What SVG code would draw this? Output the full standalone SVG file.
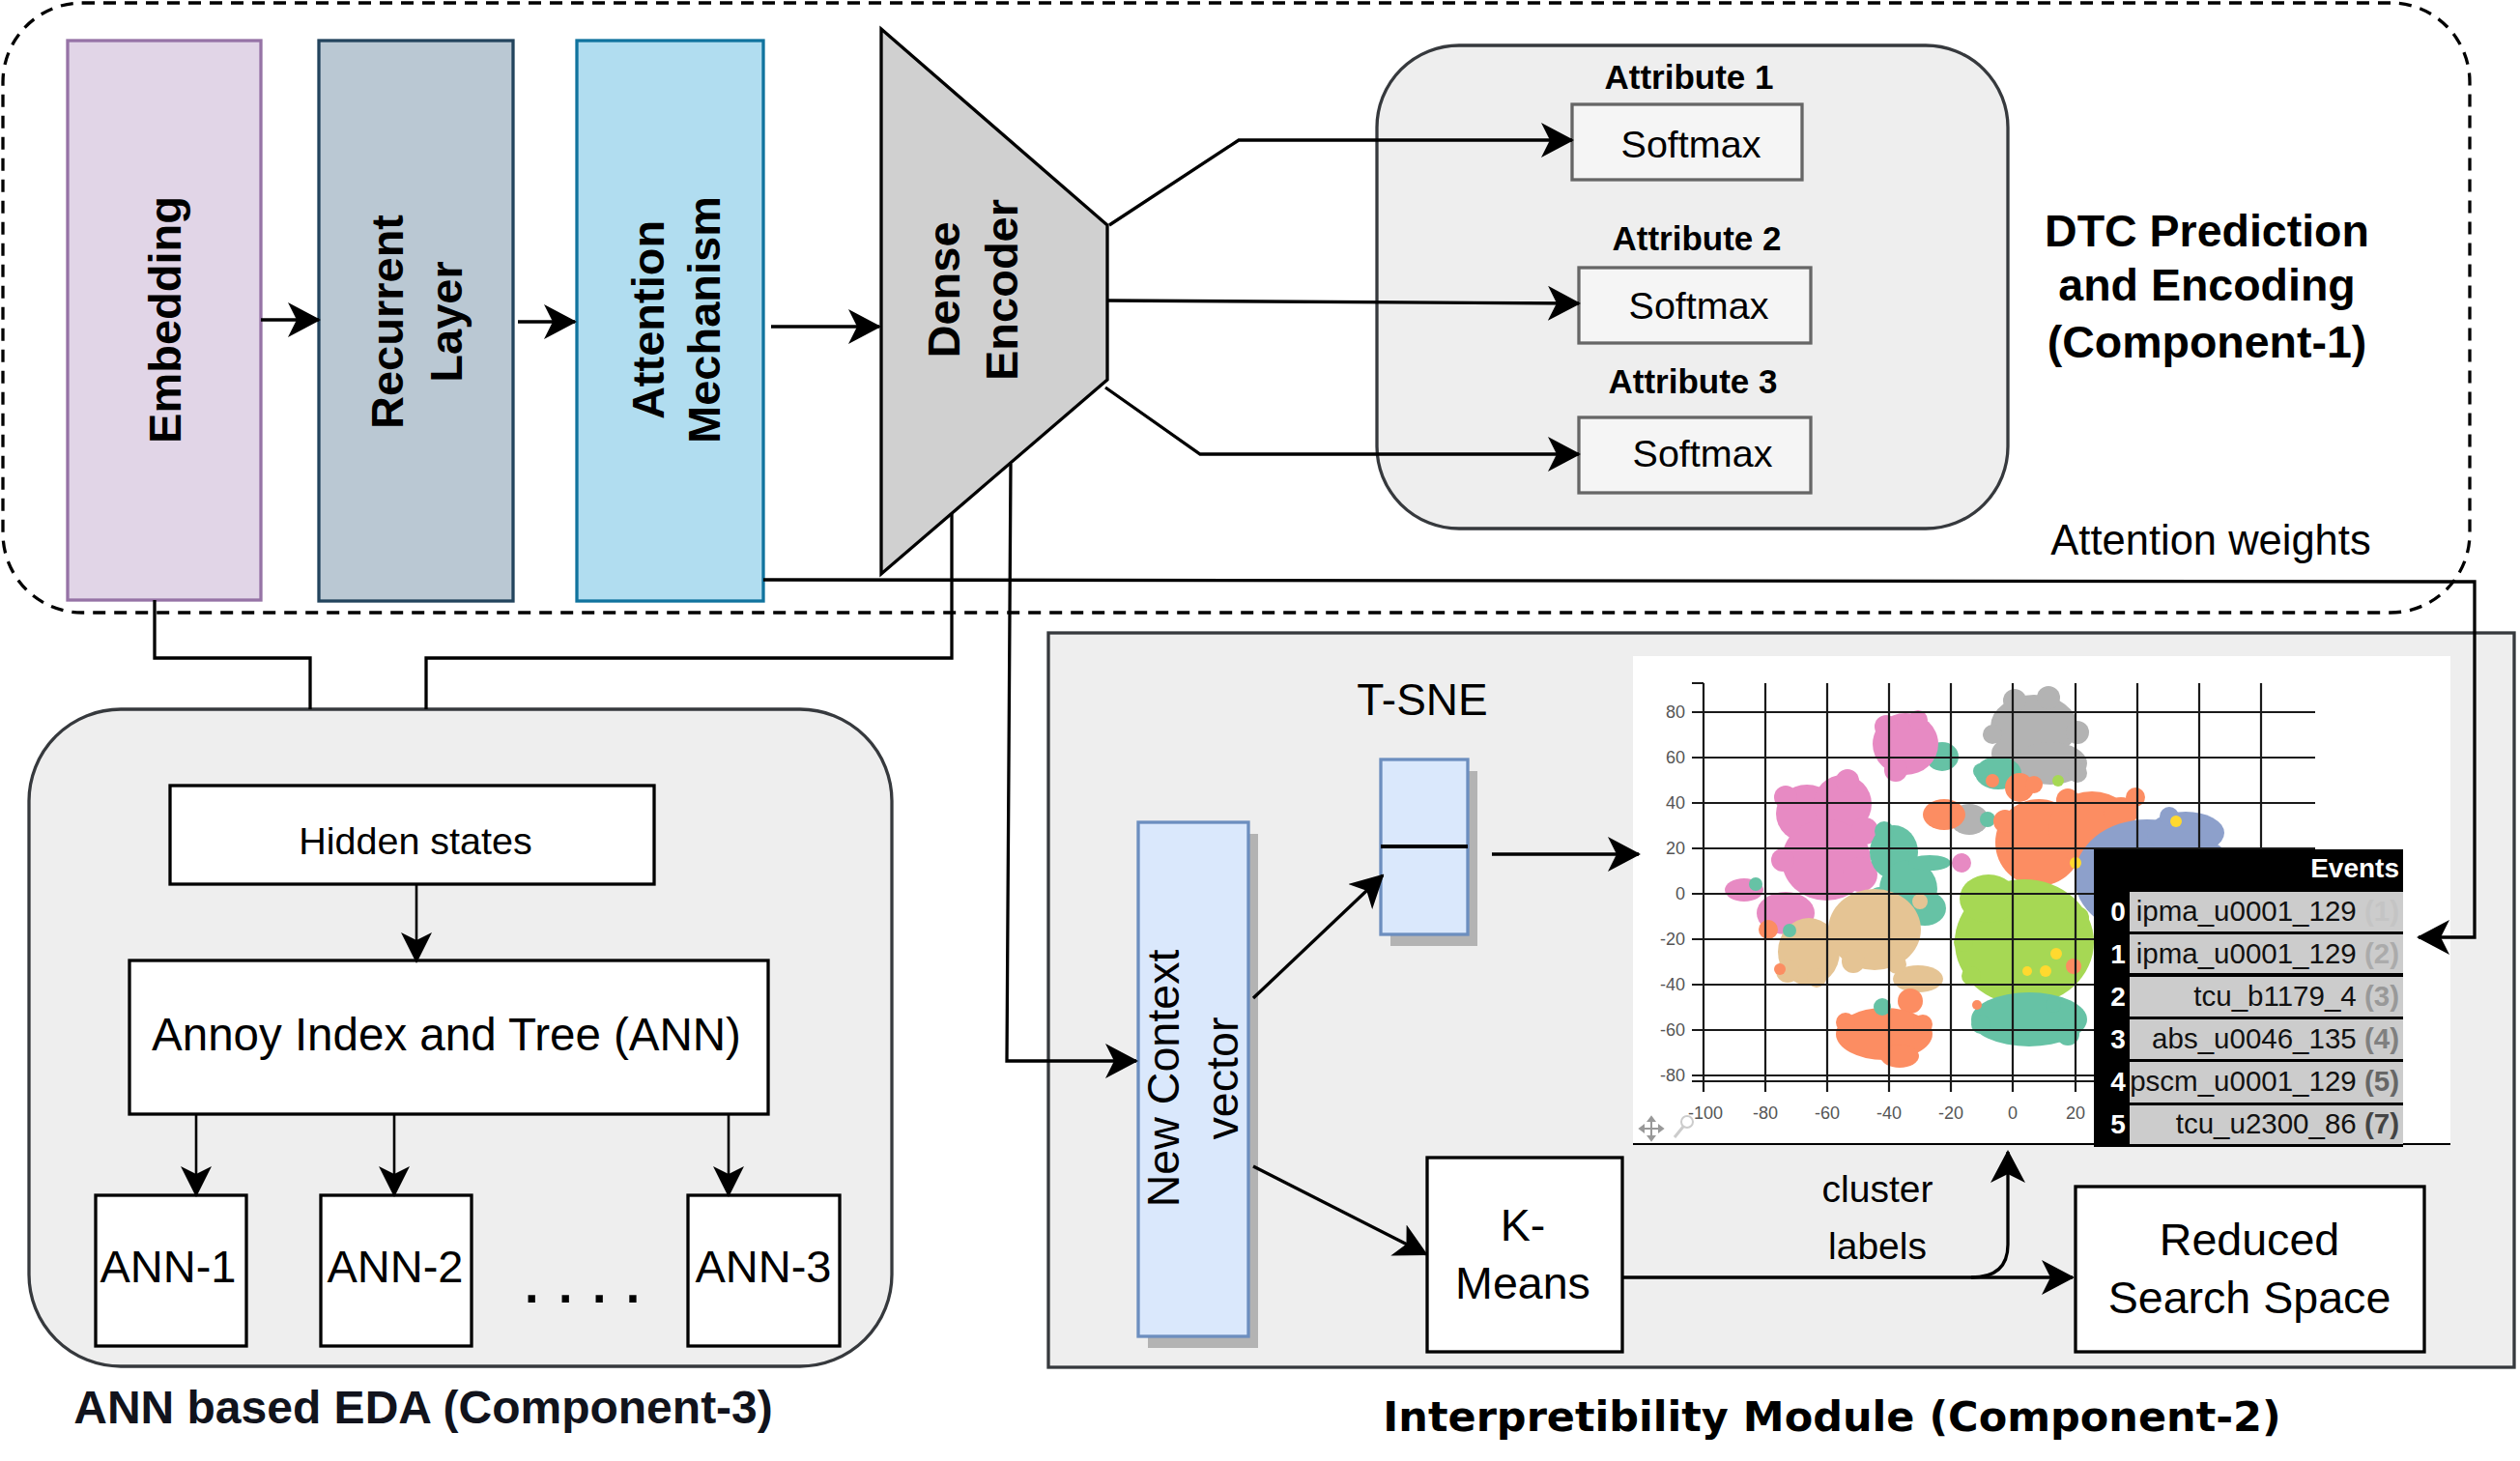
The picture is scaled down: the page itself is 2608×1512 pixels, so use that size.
<svg xmlns="http://www.w3.org/2000/svg" width="2608" height="1512" viewBox="0 0 2608 1512">
<defs>
<style>
text{font-family:"Liberation Sans",Arial,sans-serif;fill:#000}
.b{font-weight:bold}
.ln{fill:none;stroke:#000;stroke-width:3.3}
.thin{fill:none;stroke:#000;stroke-width:2.6}
.box{fill:#fff;stroke:#000;stroke-width:3.3}
.cont{fill:#eeeeee;stroke:#36393d;stroke-width:3.3}
.soft{fill:#f5f5f5;stroke:#666;stroke-width:3.3}
.blue{fill:#dae8fc;stroke:#6c8ebf;stroke-width:3.3}
.shadow{fill:#b3b3b3}
.grid{stroke:#1a1a1a;stroke-width:2.2;fill:none}
.tick{font-size:18px;fill:#555}
.cell{fill:#cccccc}
.tt{font-size:29.5px}
.idx{font-size:28px;font-weight:bold;fill:#fff}
</style>
<marker id="ah" viewBox="0 0 34 36" refX="32" refY="18" markerWidth="34" markerHeight="36" orient="auto" markerUnits="userSpaceOnUse"><path d="M0,0 L34,18 L0,36 L9,18 Z" fill="#000"/></marker>
<marker id="ah2" viewBox="0 0 32 32" refX="30" refY="16" markerWidth="32" markerHeight="32" orient="auto" markerUnits="userSpaceOnUse"><path d="M0,0 L32,16 L0,32 L8,16 Z" fill="#000"/></marker>
</defs>
<rect width="2608" height="1512" fill="#fff"/>

<!-- Component 1 dashed boundary -->
<rect id="component1" x="3" y="3" width="2553" height="631" rx="82" ry="82" fill="none" stroke="#000" stroke-width="3.3" stroke-dasharray="13 9"/>

<!-- Component 3 container -->
<g id="component3">
<rect class="cont" x="30" y="734" width="893" height="680" rx="95" ry="95"/>
<text class="b" x="438" y="1473" font-size="48" text-anchor="middle" style="fill:#11131c">ANN based EDA (Component-3)</text>
</g>

<!-- Component 2 container -->
<g id="component2">
<rect class="cont" x="1085" y="655" width="1517" height="760"/>
<text x="1896" y="1481" font-size="43" text-anchor="middle" style="font-family:'DejaVu Sans',sans-serif;font-weight:bold">Interpretibility Module (Component-2)</text>
</g>

<g id="embedding">
<rect x="70" y="42" width="200" height="579" fill="#e1d5e7" stroke="#9673a6" stroke-width="3.3"/>
<text class="b" font-size="47" text-anchor="middle" transform="translate(187,331) rotate(-90)">Embedding</text>
</g>
<g id="recurrent">
<rect x="330" y="42" width="201" height="580" fill="#bac8d3" stroke="#23445d" stroke-width="3.3"/>
<text class="b" font-size="47" text-anchor="middle" transform="translate(417,333) rotate(-90)">Recurrent</text>
<text class="b" font-size="47" text-anchor="middle" transform="translate(478,333) rotate(-90)">Layer</text>
</g>
<g id="attention">
<rect x="597" y="42" width="193" height="580" fill="#b1ddf0" stroke="#10739e" stroke-width="3.3"/>
<text class="b" font-size="47" text-anchor="middle" transform="translate(687,331) rotate(-90)">Attention</text>
<text class="b" font-size="47" text-anchor="middle" transform="translate(745,331) rotate(-90)">Mechanism</text>
</g>
<g id="dense">
<polygon points="912,30 1146,233 1146,393 912,594" fill="#d0d0d0" stroke="#000" stroke-width="3.3"/>
<text class="b" font-size="47" text-anchor="middle" transform="translate(993,300) rotate(-90)">Dense</text>
<text class="b" font-size="47" text-anchor="middle" transform="translate(1053,300) rotate(-90)">Encoder</text>
</g>

<g id="attributes">
<rect class="cont" x="1425" y="47" width="653" height="500" rx="85" ry="85"/>
<text class="b" x="1748" y="92" font-size="35" text-anchor="middle">Attribute 1</text>
<text class="b" x="1756" y="259" font-size="35" text-anchor="middle">Attribute 2</text>
<text class="b" x="1752" y="407" font-size="35" text-anchor="middle">Attribute 3</text>
</g>
<g id="softmax1"><rect class="soft" x="1627" y="108" width="238" height="78"/><text x="1750" y="163" font-size="39.5" text-anchor="middle">Softmax</text></g>
<g id="softmax2"><rect class="soft" x="1634" y="277" width="240" height="78"/><text x="1758" y="330" font-size="39.5" text-anchor="middle">Softmax</text></g>
<g id="softmax3"><rect class="soft" x="1634" y="432" width="240" height="78"/><text x="1762" y="483" font-size="39.5" text-anchor="middle">Softmax</text></g>

<g id="dtc-title">
<text class="b" x="2284" y="255" font-size="46.5" text-anchor="middle">DTC Prediction</text>
<text class="b" x="2284" y="311" font-size="46.5" text-anchor="middle">and Encoding</text>
<text class="b" x="2284" y="370" font-size="46.5" text-anchor="middle">(Component-1)</text>
</g>
<g id="attention-weights-label"><text x="2288" y="574" font-size="43.5" text-anchor="middle">Attention weights</text></g>

<!-- ANN side -->
<g id="hidden"><rect class="box" x="176" y="813" width="501" height="102" stroke-width="3"/><text x="430" y="884" font-size="39.5" text-anchor="middle">Hidden states</text></g>
<g id="annoy"><rect class="box" x="134" y="994" width="661" height="159"/><text x="462" y="1087" font-size="47.5" text-anchor="middle">Annoy Index and Tree (ANN)</text></g>
<g id="ann1"><rect class="box" x="99" y="1237" width="156" height="156"/><text x="174" y="1327" font-size="47" text-anchor="middle">ANN-1</text></g>
<g id="ann2"><rect class="box" x="332" y="1237" width="156" height="156"/><text x="409" y="1327" font-size="47" text-anchor="middle">ANN-2</text></g>
<g id="ann3"><rect class="box" x="712" y="1237" width="157" height="156"/><text x="790" y="1327" font-size="47" text-anchor="middle">ANN-3</text></g>
<g id="dots"><text class="b" x="543" y="1348" font-size="52" letter-spacing="20.5">....</text></g>

<!-- Interpretability side -->
<g id="newcontext">
<rect class="shadow" x="1188" y="863" width="114" height="532"/>
<rect class="blue" x="1178" y="851" width="114" height="532"/>
<text font-size="46.6" text-anchor="middle" transform="translate(1220,1116) rotate(-90)">New Context</text>
<text font-size="46.6" text-anchor="middle" transform="translate(1281,1116) rotate(-90)">vector</text>
</g>
<g id="tsne">
<text x="1472" y="740" font-size="46" text-anchor="middle">T-SNE</text>
<rect class="shadow" x="1439" y="798" width="90" height="181"/>
<rect class="blue" x="1429" y="786" width="90" height="181"/>
<line x1="1429" y1="876" x2="1519" y2="876" stroke="#000" stroke-width="4"/>
</g>
<g id="kmeans"><rect class="box" x="1477" y="1198" width="202" height="201" stroke-width="5"/><text x="1576" y="1284" font-size="46.6" text-anchor="middle">K-</text><text x="1576" y="1344" font-size="46.6" text-anchor="middle">Means</text></g>
<g id="reduced"><rect class="box" x="2148" y="1228" width="361" height="171" stroke-width="5"/><text x="2328" y="1299" font-size="46.6" text-anchor="middle">Reduced</text><text x="2328" y="1359" font-size="46.6" text-anchor="middle">Search Space</text></g>
<g id="cluster-labels"><text x="1943" y="1244" font-size="39" text-anchor="middle">cluster</text><text x="1943" y="1303" font-size="39" text-anchor="middle">labels</text></g>

<!-- T-SNE plot -->
<g id="plot">
<rect x="1690" y="679" width="846" height="505" fill="#fff"/>
<g id="clusters">
<g fill="#b3b3b3">
<ellipse cx="2105" cy="752" rx="45" ry="33"/><ellipse cx="2122" cy="790" rx="38" ry="22"/><circle cx="2150" cy="758" r="12"/><circle cx="2075" cy="780" r="14"/>
<circle cx="2085" cy="725" r="12"/><circle cx="2120" cy="722" r="12"/><circle cx="2062" cy="760" r="10"/><circle cx="2150" cy="800" r="10"/>
<ellipse cx="2038" cy="848" rx="20" ry="16"/>
</g>
<g fill="#66c2a5">
<ellipse cx="2068" cy="800" rx="24" ry="17"/><circle cx="2057" cy="848" r="8"/><circle cx="2050" cy="798" r="8"/>
<ellipse cx="2010" cy="783" rx="17" ry="15"/>
</g>
<g fill="#fc8d62">
<circle cx="2090" cy="815" r="15"/><circle cx="2062" cy="808" r="7"/><circle cx="2105" cy="812" r="9"/>
<ellipse cx="2012" cy="843" rx="22" ry="16"/>
</g>
<g fill="#a6d854"><circle cx="2130" cy="808" r="6"/><circle cx="2074" cy="846" r="6"/></g>
<g fill="#e78ac3">
<ellipse cx="1972" cy="770" rx="34" ry="32"/><circle cx="1962" cy="797" r="12"/><circle cx="1952" cy="752" r="12"/><circle cx="1985" cy="745" r="10"/>
<ellipse cx="1870" cy="842" rx="32" ry="30"/><ellipse cx="1907" cy="832" rx="30" ry="30"/><ellipse cx="1890" cy="890" rx="46" ry="42"/><circle cx="1925" cy="905" r="18"/>
<circle cx="1848" cy="825" r="12"/><circle cx="1912" cy="808" r="12"/><circle cx="1845" cy="890" r="12"/><circle cx="1930" cy="860" r="14"/>
<circle cx="2030" cy="893" r="10"/>
<ellipse cx="1805" cy="921" rx="20" ry="12"/><ellipse cx="1848" cy="945" rx="30" ry="22"/>
</g>
<g fill="#66c2a5">
<ellipse cx="1960" cy="882" rx="25" ry="28"/><ellipse cx="1975" cy="920" rx="30" ry="30"/><ellipse cx="1992" cy="940" rx="22" ry="18"/><ellipse cx="1997" cy="893" rx="22" ry="8"/>
<circle cx="1950" cy="860" r="10"/><circle cx="1945" cy="930" r="12"/>
<circle cx="1817" cy="915" r="7"/>
</g>
<g fill="#e5c494">
<ellipse cx="1872" cy="985" rx="32" ry="35"/><ellipse cx="1940" cy="962" rx="48" ry="42"/><ellipse cx="1985" cy="1013" rx="26" ry="14"/><circle cx="1987" cy="933" r="8"/>
<circle cx="1850" cy="1005" r="12"/><circle cx="1880" cy="1012" r="10"/><circle cx="1918" cy="995" r="12"/><circle cx="1963" cy="998" r="10"/>
</g>
<g fill="#fc8d62">
<circle cx="1830" cy="962" r="10"/><circle cx="1842" cy="1003" r="6"/>
<circle cx="1977" cy="1036" r="13"/>
<ellipse cx="1950" cy="1070" rx="50" ry="27"/><ellipse cx="1966" cy="1093" rx="20" ry="12"/><circle cx="1910" cy="1058" r="10"/><circle cx="1990" cy="1060" r="10"/>
</g>
<g fill="#66c2a5"><circle cx="1852" cy="963" r="7"/><circle cx="1948" cy="1042" r="9"/></g>
<g fill="#fc8d62">
<ellipse cx="2110" cy="872" rx="45" ry="45"/><ellipse cx="2165" cy="857" rx="45" ry="38"/><ellipse cx="2195" cy="840" rx="18" ry="15"/>
<circle cx="2075" cy="850" r="12"/><circle cx="2140" cy="828" r="12"/><circle cx="2210" cy="825" r="10"/>
</g>
<g fill="#8da0cb">
<ellipse cx="2222" cy="908" rx="75" ry="60"/><ellipse cx="2262" cy="862" rx="40" ry="22"/><circle cx="2088" cy="928" r="7"/>
<circle cx="2290" cy="885" r="12"/><circle cx="2245" cy="845" r="10"/>
</g>
<g fill="#a6d854">
<ellipse cx="2095" cy="975" rx="72" ry="65"/><ellipse cx="2058" cy="930" rx="30" ry="25"/>
<circle cx="2032" cy="975" r="10"/><circle cx="2040" cy="1010" r="10"/><circle cx="2150" cy="950" r="12"/>
</g>
<g fill="#66c2a5"><ellipse cx="2100" cy="1055" rx="60" ry="28"/><circle cx="2125" cy="1040" r="8"/><circle cx="2050" cy="1060" r="10"/><circle cx="2140" cy="1070" r="12"/></g>
<g fill="#fc8d62"><circle cx="2146" cy="1000" r="8"/><circle cx="2046" cy="1040" r="5"/></g>
<g fill="#ffd92f"><circle cx="2128" cy="987" r="6"/><circle cx="2117" cy="1005" r="6"/><circle cx="2098" cy="1005" r="5"/><circle cx="2148" cy="893" r="6"/><circle cx="2252" cy="850" r="6"/></g>
</g>
<g id="grid" class="grid">
<path d="M1751,737H2396M1751,784H2396M1751,831H2396M1751,878H2396M1751,925H2396M1751,972H2396M1751,1019H2396M1751,1066H2396M1751,1113H2396M1751,1119H2396M1751,707H1763"/>
<path d="M1763,707V1130M1827,707V1130M1891,707V1130M1955,707V1130M2019,707V1130M2083,707V1130M2148,707V1130M2212,707V1130M2276,707V1130M2340,707V1130"/>
</g>
<g id="ticks">
<text class="tick" x="1744" y="743" text-anchor="end">80</text>
<text class="tick" x="1744" y="790" text-anchor="end">60</text>
<text class="tick" x="1744" y="837" text-anchor="end">40</text>
<text class="tick" x="1744" y="884" text-anchor="end">20</text>
<text class="tick" x="1744" y="931" text-anchor="end">0</text>
<text class="tick" x="1744" y="978" text-anchor="end">-20</text>
<text class="tick" x="1744" y="1025" text-anchor="end">-40</text>
<text class="tick" x="1744" y="1072" text-anchor="end">-60</text>
<text class="tick" x="1744" y="1119" text-anchor="end">-80</text>
<text class="tick" x="1765" y="1158" text-anchor="middle">-100</text>
<text class="tick" x="1827" y="1158" text-anchor="middle">-80</text>
<text class="tick" x="1891" y="1158" text-anchor="middle">-60</text>
<text class="tick" x="1955" y="1158" text-anchor="middle">-40</text>
<text class="tick" x="2019" y="1158" text-anchor="middle">-20</text>
<text class="tick" x="2083" y="1158" text-anchor="middle">0</text>
<text class="tick" x="2148" y="1158" text-anchor="middle">20</text>
</g>
<g id="tools" fill="none" stroke="#999" stroke-width="2">
<path d="M1697,1168H1721M1709,1156V1180"/>
<path d="M1697,1168l4,-3v6zM1721,1168l-4,-3v6zM1709,1156l-3,4h6zM1709,1180l-3,-4h6z" fill="#999"/>
<circle cx="1746" cy="1161" r="6" stroke="#ccc"/>
<path d="M1742,1166L1733,1177" stroke="#ccc" stroke-width="3"/>
</g>
<line x1="1690" y1="1184" x2="2536" y2="1184" stroke="#000" stroke-width="2"/>
<g id="events-table">
<rect x="2167" y="879" width="320" height="308" fill="#000"/>
<rect class="cell" x="2204" y="923" width="283" height="41"/>
<rect class="cell" x="2204" y="967" width="283" height="40"/>
<rect class="cell" x="2204" y="1011" width="283" height="41"/>
<rect class="cell" x="2204" y="1055" width="283" height="41"/>
<rect class="cell" x="2204" y="1099" width="283" height="42"/>
<rect class="cell" x="2204" y="1144" width="283" height="40"/>
<text class="b" x="2483" y="908" font-size="28" text-anchor="end" style="fill:#fff">Events</text>
<text class="idx" x="2192" y="953" text-anchor="middle">0</text>
<text class="idx" x="2192" y="997" text-anchor="middle">1</text>
<text class="idx" x="2192" y="1041" text-anchor="middle">2</text>
<text class="idx" x="2192" y="1085" text-anchor="middle">3</text>
<text class="idx" x="2192" y="1129" text-anchor="middle">4</text>
<text class="idx" x="2192" y="1173" text-anchor="middle">5</text>
<text class="tt" x="2483" y="953" text-anchor="end" style="fill:#111">ipma_u0001_129 <tspan font-weight="bold" style="fill:#c4c4c4">(1)</tspan></text>
<text class="tt" x="2483" y="997" text-anchor="end" style="fill:#111">ipma_u0001_129 <tspan font-weight="bold" style="fill:#ababab">(2)</tspan></text>
<text class="tt" x="2483" y="1041" text-anchor="end" style="fill:#111">tcu_b1179_4 <tspan font-weight="bold" style="fill:#999">(3)</tspan></text>
<text class="tt" x="2483" y="1085" text-anchor="end" style="fill:#111">abs_u0046_135 <tspan font-weight="bold" style="fill:#808080">(4)</tspan></text>
<text class="tt" x="2483" y="1129" text-anchor="end" style="fill:#111">pscm_u0001_129 <tspan font-weight="bold" style="fill:#666">(5)</tspan></text>
<text class="tt" x="2483" y="1173" text-anchor="end" style="fill:#111">tcu_u2300_86 <tspan font-weight="bold" style="fill:#444">(7)</tspan></text>
</g>
</g>

<!-- Connectors -->
<g id="connectors">
<path class="ln" d="M270,331H330" marker-end="url(#ah)"/>
<path class="ln" d="M536,333H595" marker-end="url(#ah)"/>
<path class="ln" d="M798,338H910" marker-end="url(#ah)"/>
<path class="ln" d="M1148,233L1282,145H1627" marker-end="url(#ah)"/>
<path class="ln" d="M1146,311L1634,314" marker-end="url(#ah)"/>
<path class="ln" d="M1144,401L1242,470H1634" marker-end="url(#ah)"/>
<path class="ln" d="M790,600L2561,602V970H2503" marker-end="url(#ah)"/>
<path class="ln" d="M160,621V681H321V734" stroke-width="3"/>
<path class="ln" d="M985,531V681H441V734" stroke-width="3"/>
<path class="ln" d="M1046,480L1042,1098H1176" marker-end="url(#ah)"/>
<path class="ln" d="M1297,1033L1431,906" marker-end="url(#ah)"/>
<path class="ln" d="M1297,1207L1476,1298" marker-end="url(#ah)"/>
<path class="ln" d="M1544,884H1696" marker-end="url(#ah)"/>
<path class="ln" d="M1679,1322H2145" marker-end="url(#ah)" stroke-width="4"/>
<path class="ln" d="M2040,1322Q2078,1322 2078,1288V1192" marker-end="url(#ah)" stroke-width="4"/>
<path class="thin" d="M431,915V995" marker-end="url(#ah2)"/>
<path class="thin" d="M203,1153V1237" marker-end="url(#ah2)"/>
<path class="thin" d="M408,1153V1237" marker-end="url(#ah2)"/>
<path class="thin" d="M754,1153V1237" marker-end="url(#ah2)"/>
</g>
</svg>
